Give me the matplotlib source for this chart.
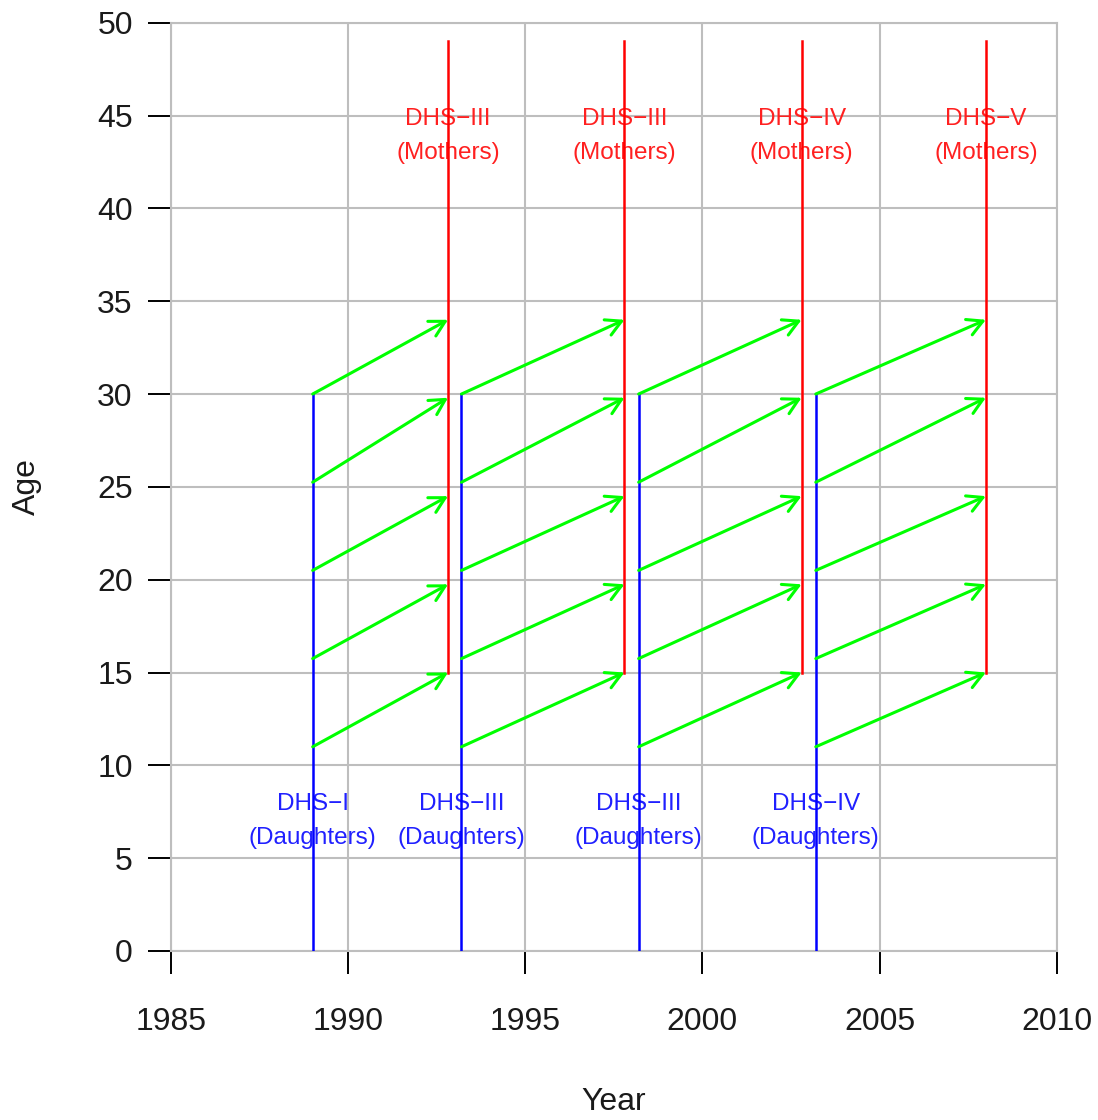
import matplotlib
matplotlib.use("Agg")
import matplotlib.pyplot as plt
from matplotlib.patches import FancyArrowPatch

plt.rcParams['font.family'] = ['Liberation Sans', 'DejaVu Sans']

# Data
daughter_years = [1989.0, 1993.2, 1998.2, 2003.2]
daughter_labels = ["DHS\u2212I", "DHS\u2212III", "DHS\u2212III", "DHS\u2212IV"]
mother_years = [1992.82, 1997.8, 2002.8, 2008.0]
mother_labels = ["DHS\u2212III", "DHS\u2212III", "DHS\u2212IV", "DHS\u2212V"]
daughter_age_range = [0, 30]
mother_age_range = [15, 49]
arrow_start_ages = [11, 15.75, 20.5, 25.25, 30]
arrow_end_ages = [15, 19.75, 24.5, 29.8, 34]
daughter_label_age = 7
mother_label_age = 43.9
x_ticks = [1985, 1990, 1995, 2000, 2005, 2010]
y_ticks = [0, 5, 10, 15, 20, 25, 30, 35, 40, 45, 50]

fig = plt.figure(figsize=(10.98, 11.2), dpi=100)
ax = fig.add_axes([0.1557, 0.1509, 0.9624 - 0.1557, 0.9797 - 0.1509])
ax.set_xlim(1985, 2010)
ax.set_ylim(0, 50)
ax.set_xticks(x_ticks)
ax.set_yticks(y_ticks)
ax.grid(True, color='#BEBEBE', linewidth=1.5, zorder=0)
ax.set_axisbelow(True)
for s in ax.spines.values():
    s.set_color('#BEBEBE')
    s.set_linewidth(1.5)
ax.tick_params(axis='both', length=16.5, width=1.4, color='black', labelsize=23,
               labelcolor='#1a1a1a')
ax.tick_params(axis='x', pad=24)
ax.tick_params(axis='y', pad=11)
ax.set_xlabel("Year", fontsize=23, color='#1a1a1a', labelpad=36)
ax.set_ylabel("Age", fontsize=23, color='#1a1a1a', labelpad=40)

# labels (under lines)
for x, lab in zip(daughter_years, daughter_labels):
    ax.text(x, daughter_label_age, lab + "\n(Daughters)", color='#2020FF', fontsize=17.5,
            ha='center', va='center', linespacing=1.75, zorder=2)
for x, lab in zip(mother_years, mother_labels):
    ax.text(x, mother_label_age, lab + "\n(Mothers)", color='#FF2020', fontsize=17.5,
            ha='center', va='center', linespacing=1.75, zorder=2)

# vertical lines
for x in daughter_years:
    ax.plot([x, x], daughter_age_range, color='#0000FF', lw=1.8, zorder=3)
for x in mother_years:
    ax.plot([x, x], mother_age_range, color='#FF0000', lw=1.8, zorder=3)

# arrows
for x0, x1 in zip(daughter_years, mother_years):
    for a0, a1 in zip(arrow_start_ages, arrow_end_ages):
        arr = FancyArrowPatch((x0, a0), (x1, a1),
                              arrowstyle='->,head_length=0.55,head_width=0.3',
                              mutation_scale=20, color='#00FF00', lw=2.2,
                              shrinkA=0, shrinkB=0, zorder=4)
        ax.add_patch(arr)

fig.savefig("out.png", dpi=100)
